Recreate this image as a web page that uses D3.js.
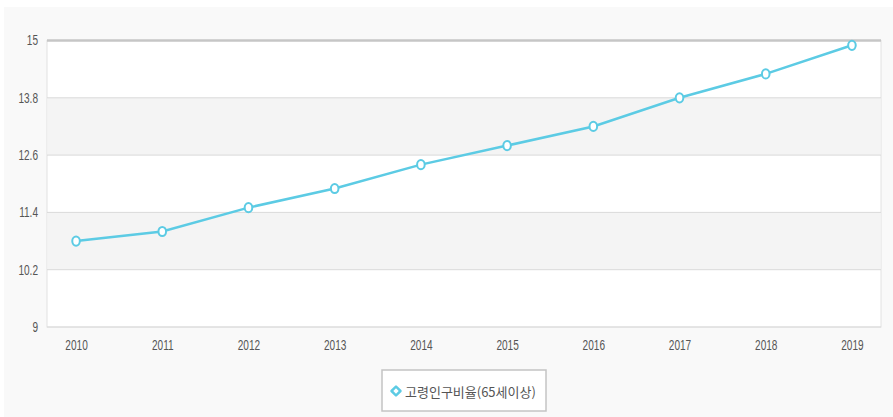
<!DOCTYPE html>
<html>
<head>
<meta charset="utf-8">
<script src="https://cdn.jsdelivr.net/npm/d3@7"></script>
<style>
  html, body { margin: 0; padding: 0; background: #ffffff; }
  svg { display: block; }
  .tick text { font-family: "Liberation Sans", Arial, sans-serif; }
</style>
</head>
<body>
<svg id="chart" width="893" height="417"></svg>
<script>
// Elderly population ratio (aged 65+), per year
const years = ["2010", "2011", "2012", "2013", "2014", "2015", "2016", "2017", "2018", "2019"];
const ratio = [10.8, 11.0, 11.5, 11.9, 12.4, 12.8, 13.2, 13.8, 14.3, 14.9];
const yTicks = [9, 10.2, 11.4, 12.6, 13.8, 15];
const seriesName = "고령인구비율(65세이상)";

const svg = d3.select("#chart");
const W = 893, H = 417;
const plot = { left: 47, right: 881, top: 40.5, bottom: 327 };
const narrow = 0.72; // horizontal squeeze of axis labels

// page background
svg.append("rect").attr("x", 4).attr("y", 7).attr("width", W - 4).attr("height", H - 7)
  .attr("fill", "#f9f9f9");

const x = d3.scalePoint().domain(years).range([plot.left, plot.right]).padding(0.337);
const y = d3.scaleLinear().domain([9, 15]).range([plot.bottom, plot.top]);

// plot area
svg.append("rect")
  .attr("x", plot.left).attr("y", plot.top)
  .attr("width", plot.right - plot.left).attr("height", plot.bottom - plot.top)
  .attr("fill", "#ffffff").attr("stroke", "#e2e2e2").attr("stroke-width", 1);

// alternating bands
const bands = d3.pairs(yTicks).filter((d, i) => i % 2 === 1);
svg.append("g").selectAll("rect").data(bands).join("rect")
  .attr("x", plot.left + 0.5).attr("width", plot.right - plot.left - 1)
  .attr("y", d => y(d[1])).attr("height", d => y(d[0]) - y(d[1]))
  .attr("fill", "#f4f4f4");

// horizontal grid
svg.append("g").selectAll("line").data(yTicks).join("line")
  .attr("x1", plot.left).attr("x2", plot.right)
  .attr("y1", d => y(d)).attr("y2", d => y(d))
  .attr("stroke", d => d === 15 ? "#c6c6c6" : "#d9d9d9")
  .attr("stroke-width", d => d === 15 ? 2.5 : 1);

// y axis labels
const yAxis = d3.axisLeft(y).tickValues(yTicks).tickSize(0).tickPadding(0)
  .tickFormat(d => String(d));
const gy = svg.append("g").attr("transform", `translate(${plot.left},0)`).call(yAxis);
gy.select(".domain").remove();
gy.selectAll("text")
  .attr("x", -9 / narrow)
  .attr("transform", `scale(${narrow},1)`)
  .attr("fill", "#555").attr("font-size", 14);

// x axis labels
const xAxis = d3.axisBottom(x).tickSize(0).tickPadding(13);
const gx = svg.append("g").attr("transform", `translate(0,${plot.bottom})`).call(xAxis);
gx.select(".domain").remove();
gx.selectAll("text")
  .attr("transform", `scale(${narrow},1)`)
  .attr("fill", "#555").attr("font-size", 14);

// series line
const color = "#5ccbe4";
const pts = years.map((yr, i) => ({ yr, v: ratio[i] }));
svg.append("path").datum(pts)
  .attr("fill", "none").attr("stroke", color).attr("stroke-width", 2.5)
  .attr("d", d3.line().x(d => x(d.yr)).y(d => y(d.v)));

svg.append("g").selectAll("ellipse").data(pts).join("ellipse")
  .attr("cx", d => x(d.yr)).attr("cy", d => y(d.v))
  .attr("rx", 3.8).attr("ry", 4.6)
  .attr("fill", "#ffffff").attr("stroke", color).attr("stroke-width", 2);

// legend
const lg = svg.append("g");
lg.append("rect").attr("x", 382).attr("y", 370).attr("width", 164).attr("height", 41)
  .attr("fill", "#ffffff").attr("stroke", "#c4c4c4").attr("stroke-width", 1.5);
lg.append("path")
  .attr("d", d3.symbol().type(d3.symbolSquare).size(40)())
  .attr("transform", "translate(396,391) rotate(45)")
  .attr("fill", "#ffffff").attr("stroke", color).attr("stroke-width", 2.5)
  .attr("stroke-linejoin", "round");
lg.append("text").attr("x", 405).attr("y", 396.5)
  .attr("font-family", "'Noto Sans CJK KR', sans-serif").attr("font-size", 13)
  .attr("fill", "#555")
  .text(seriesName);
</script>
</body>
</html>
